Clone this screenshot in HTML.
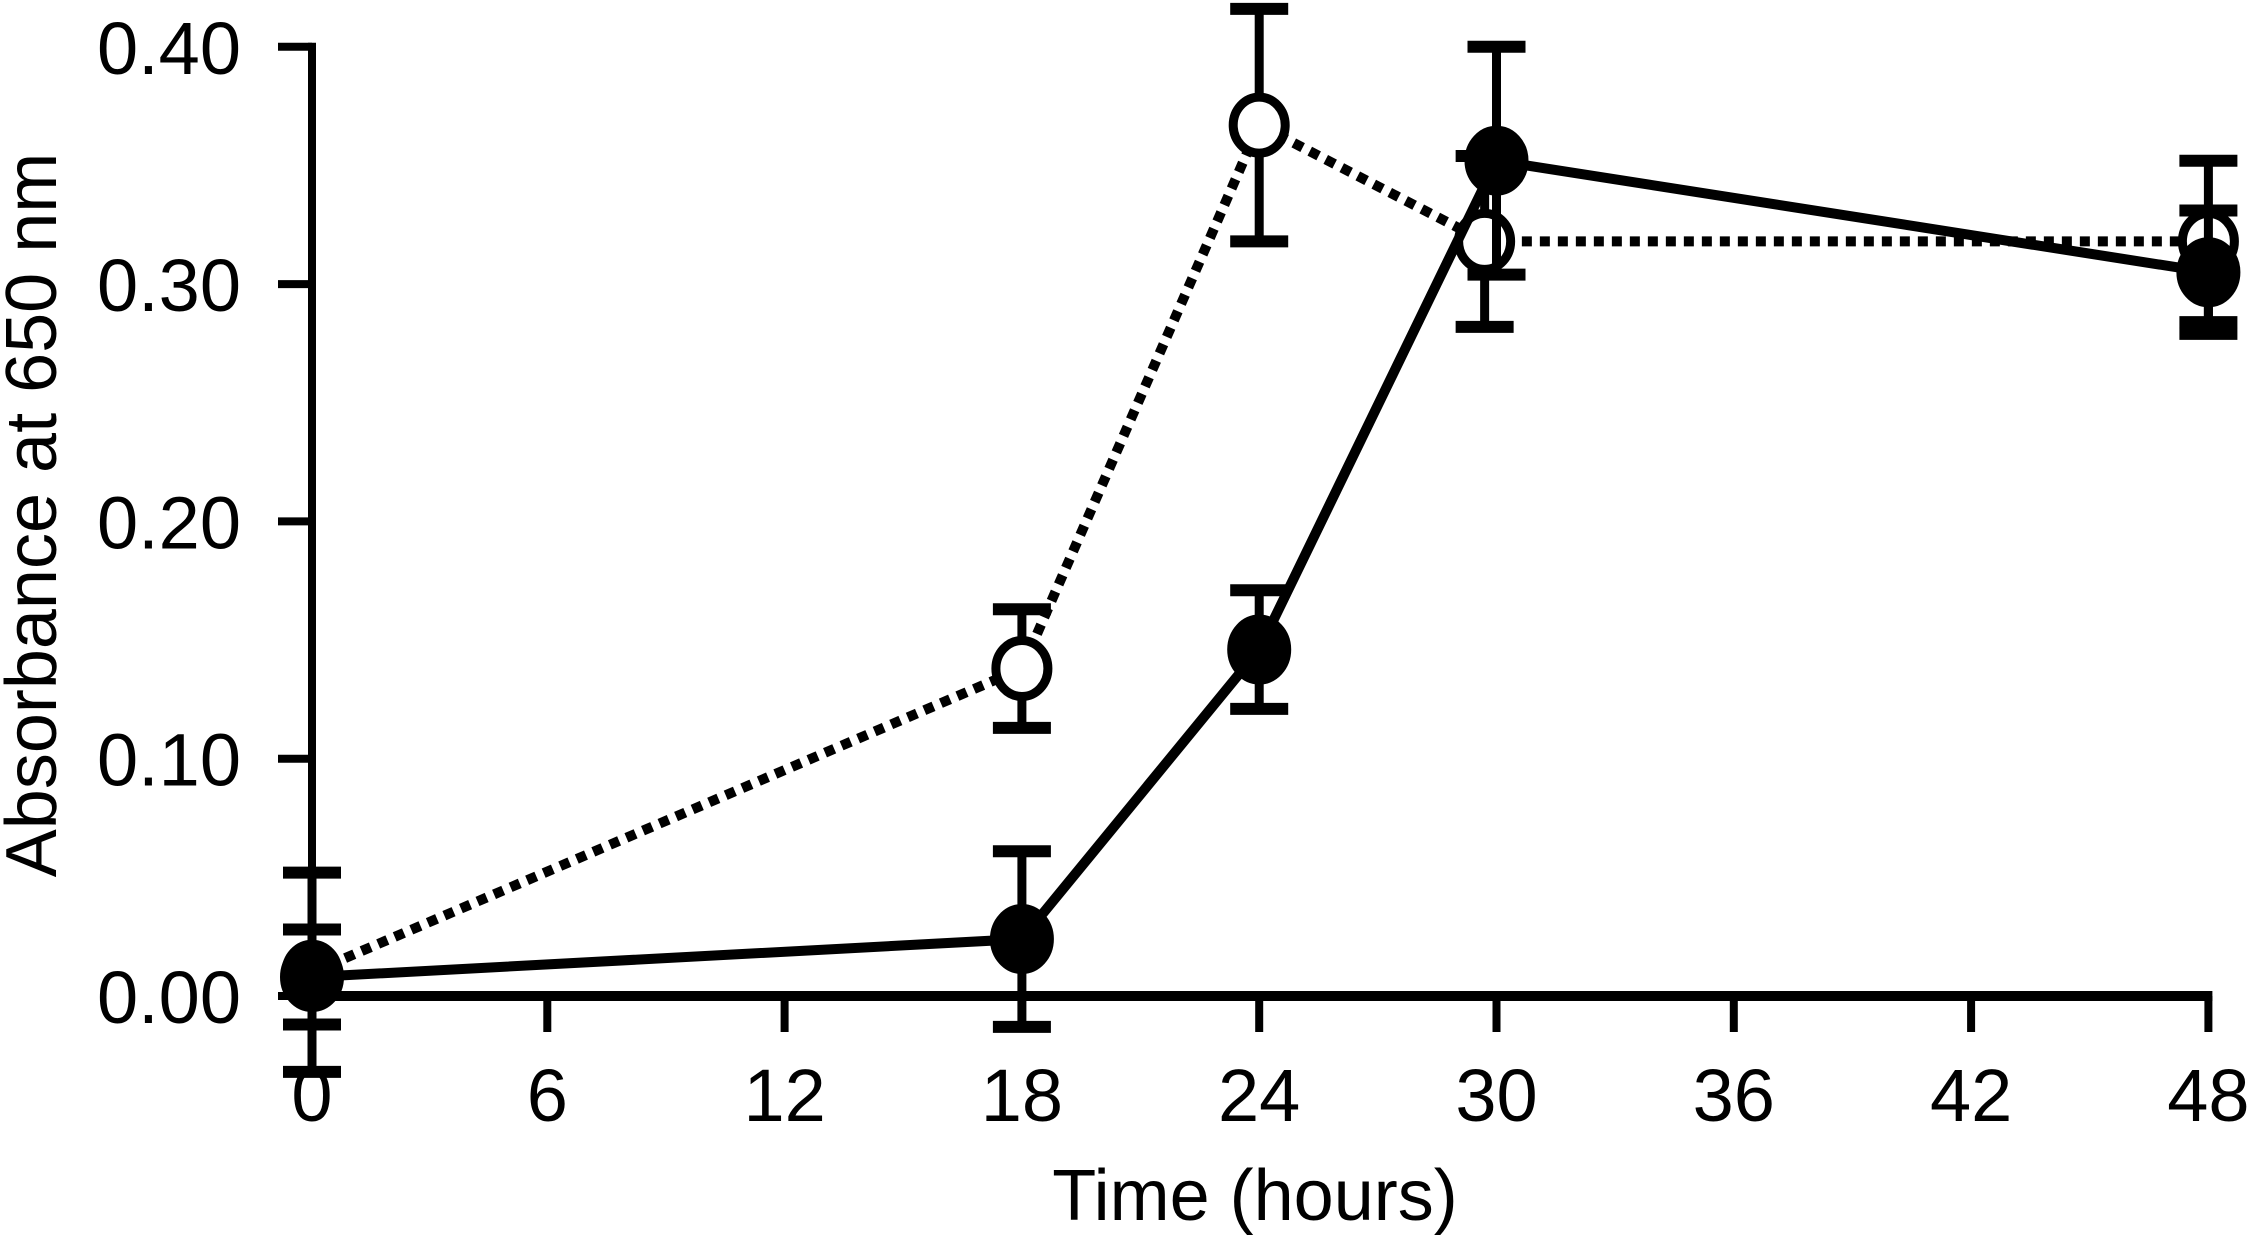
<!DOCTYPE html>
<html><head><meta charset="utf-8"><style>
html,body{margin:0;padding:0;background:#fff;}
svg{display:block;}
text{font-family:"Liberation Sans",Arial,sans-serif;fill:#000;}
</style></head><body>
<svg id="chart" width="2253" height="1246" viewBox="0 0 2253 1246">
<g id="axes"></g>
<g id="series"></g>
<text x="1255" y="1220" font-size="72" text-anchor="middle">Time (hours)</text>
<text transform="translate(56,515) rotate(-90)" font-size="72" text-anchor="middle">Absorbance at 650 nm</text>
</svg>
<script>
const xTicks = [0, 6, 12, 18, 24, 30, 36, 42, 48];
const yTicks = [0, 0.1, 0.2, 0.3, 0.4];
const yTickLabels = ["0.00", "0.10", "0.20", "0.30", "0.40"];
const filledTimes = [0, 18, 24, 30, 48];
const filledValues = [0.008, 0.024, 0.146, 0.352, 0.305];
const filledErrors = [0.02, 0.037, 0.025, 0.048, 0.026];
const openTimes = [0, 18, 24, 29.7, 48];
const openValues = [0.01, 0.138, 0.367, 0.318, 0.318];
const openErrors = [0.042, 0.025, 0.049, 0.036, 0.034];

const NS = "http://www.w3.org/2000/svg";
function xs(t){ return 310 + t * 39.55; }
function ys(v){ return 996 - v * 2373; }
function mk(tag, attrs, parent){
  const e = document.createElementNS(NS, tag);
  for (const k in attrs) e.setAttribute(k, attrs[k]);
  parent.appendChild(e);
  return e;
}
const axes = document.getElementById('axes');
const ser = document.getElementById('series');
const X0 = 312, XEND = xs(48) + 4, Y0 = ys(0);
let l = mk('line', {x1:X0, y1:ys(0.4)-4, x2:X0, y2:Y0+4, stroke:'#000', 'stroke-width':8}, axes);


l = mk('line', {x1:X0-4, y1:Y0, x2:XEND, y2:Y0, stroke:'#000', 'stroke-width':10}, axes);


yTicks.forEach((v, i) => {
  const t = mk('line', {x1:X0-34, y1:ys(v), x2:X0, y2:ys(v), stroke:'#000', 'stroke-width':8}, axes);
  
  
  const tx = mk('text', {x:241, y:ys(v)+27, 'font-size':74, 'text-anchor':'end'}, axes);
  tx.textContent = yTickLabels[i];
  
  
});
xTicks.forEach(t => {
  const x = t === 0 ? X0 : xs(t);
  const k = mk('line', {x1:x, y1:Y0, x2:x, y2:Y0+36, stroke:'#000', 'stroke-width':8}, axes);
  
  
  const tx = mk('text', {x:x, y:1121, 'font-size':74, 'text-anchor':'middle'}, axes);
  tx.textContent = String(t);
  
  
});
function px(t){ return t === 0 ? X0 : xs(t); }
function drawSeries(times, vals, errs, filled, name){
  const pts = times.map((t,i) => px(t) + ',' + ys(vals[i])).join(' ');
  const pl = mk('polyline', {points:pts, fill:'none', stroke:'#000', 'stroke-width':10,
    'stroke-dasharray': filled ? 'none' : '10 8'}, ser);
  
  
  times.forEach((t,i) => {
    const x = px(t), y1 = ys(vals[i]+errs[i]), y2 = ys(vals[i]-errs[i]);
    const g = mk('g', {}, ser);
    
    
    mk('line', {x1:x, y1:y1, x2:x, y2:y2, stroke:'#000', 'stroke-width':9}, g);
    mk('line', {x1:x-29, y1:y1, x2:x+29, y2:y1, stroke:'#000', 'stroke-width':12}, g);
    mk('line', {x1:x-29, y1:y2, x2:x+29, y2:y2, stroke:'#000', 'stroke-width':12}, g);
  });
  times.forEach((t,i) => {
    const m = mk('ellipse', {cx:px(t), cy:ys(vals[i]), rx: filled ? 31 : 26, ry: filled ? 34 : 28,
      fill: filled ? '#000' : '#fff', stroke:'#000', 'stroke-width': filled ? 2 : 9}, ser);
    
    
  });
}
drawSeries(openTimes, openValues, openErrors, false, 'open-series');
drawSeries(filledTimes, filledValues, filledErrors, true, 'filled-series');
</script>
</body></html>
